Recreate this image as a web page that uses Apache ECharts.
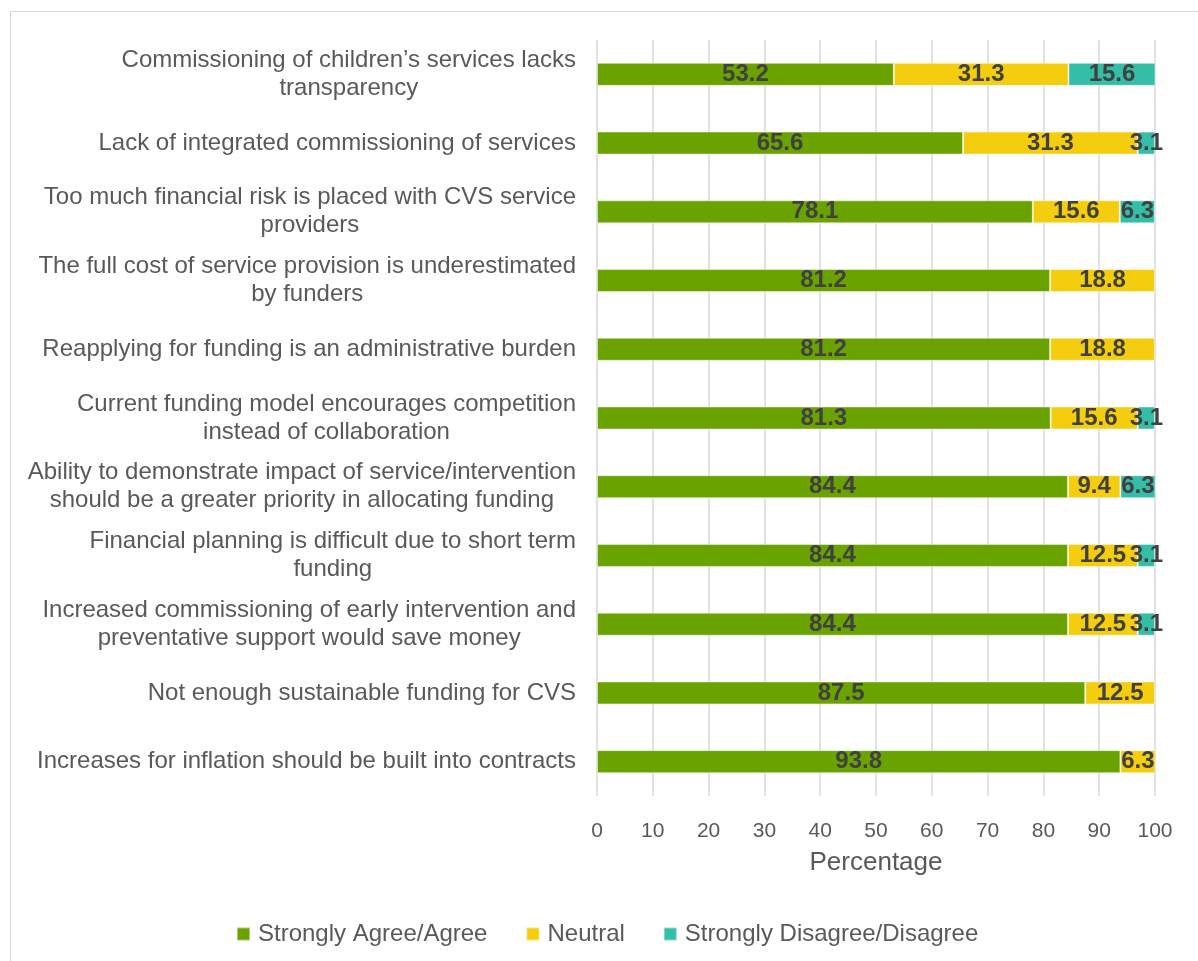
<!DOCTYPE html>
<html>
<head>
<meta charset="utf-8">
<script src="https://cdn.jsdelivr.net/npm/echarts@6/dist/echarts.min.js"></script>
<style>
  html, body { margin: 0; padding: 0; background: #ffffff; }
  #chart { width: 1198px; height: 961px; }
</style>
</head>
<body>
<div id="chart"></div>
<script>
// Survey statements, top to bottom
const categories = [
  'Commissioning of children\u2019s services lacks\ntransparency',
  'Lack of integrated commissioning of services',
  'Too much financial risk is placed with CVS service\nproviders',
  'The full cost of service provision is underestimated\nby funders',
  'Reapplying for funding is an administrative burden',
  'Current funding model encourages competition\ninstead of collaboration',
  'Ability to demonstrate impact of service/intervention\nshould be a greater priority in allocating funding',
  'Financial planning is difficult due to short term\nfunding',
  'Increased commissioning of early intervention and\npreventative support would save money',
  'Not enough sustainable funding for CVS',
  'Increases for inflation should be built into contracts'
];

// Percentages per response group (null = no responses)
const agree    = [53.2, 65.6, 78.1, 81.2, 81.2, 81.3, 84.4, 84.4, 84.4, 87.5, 93.8];
const neutral  = [31.3, 31.3, 15.6, 18.8, 18.8, 15.6, 9.4, 12.5, 12.5, 12.5, 6.3];
const disagree = [15.6, 3.1, 6.3, null, null, 3.1, 6.3, 3.1, 3.1, null, null];

const seriesNames = ['Strongly Agree/Agree', 'Neutral', 'Strongly Disagree/Disagree'];
const xTicks = { min: 0, max: 100, interval: 10 };

const textGrey = '#595959';
const labelFont = "'Liberation Sans', Arial, sans-serif";

function barSeries(name, data, color) {
  return {
    name: name,
    type: 'bar',
    stack: 'total',
    data: data,
    barWidth: 23,
    itemStyle: { color: color, borderColor: 'rgba(255,255,255,0.45)', borderWidth: 1 },
    label: {
      show: true,
      position: 'inside',
      color: '#404040',
      fontFamily: labelFont,
      fontWeight: 'bold',
      fontSize: 24,
      formatter: p => (p.value == null ? '' : p.value.toFixed(1))
    },
    emphasis: { disabled: true }
  };
}

const chart = echarts.init(document.getElementById('chart'));
chart.setOption({
  animation: false,
  textStyle: { fontFamily: labelFont },
  graphic: [{
    type: 'rect',
    shape: { x: 10.5, y: 11.5, width: 1220, height: 1000 },
    style: { fill: 'none', stroke: '#d9d9d9', lineWidth: 1 },
    silent: true
  }],
  grid: { left: 597, right: 43, top: 40, bottom: 165 },
  legend: {
    data: seriesNames,
    top: 917,
    left: 231,
    itemWidth: 13,
    itemHeight: 13,
    itemGap: 38,
    icon: 'rect',
    textStyle: { color: textGrey, fontSize: 24, fontFamily: labelFont, padding: [0, 0, 0, 3] }
  },
  xAxis: {
    type: 'value',
    min: xTicks.min,
    max: xTicks.max,
    interval: xTicks.interval,
    axisLine: { show: false },
    axisTick: { show: false },
    splitLine: { lineStyle: { color: '#d9d9d9', width: 1.5 } },
    axisLabel: { color: textGrey, fontSize: 21, margin: 25 },
    name: 'Percentage',
    nameLocation: 'middle',
    nameGap: 54,
    nameTextStyle: { color: textGrey, fontSize: 26 }
  },
  yAxis: {
    type: 'category',
    inverse: true,
    data: categories,
    axisLine: { show: false },
    axisTick: { show: false },
    axisLabel: {
      margin: 21,
      align: 'right',
      formatter: v => v.split('\n').map(s => '{c|' + s + '}').join('\n'),
      rich: {
        c: { align: 'center', color: textGrey, fontSize: 24, lineHeight: 28, fontFamily: labelFont }
      }
    }
  },
  series: [
    barSeries(seriesNames[0], agree, '#6aa300'),
    barSeries(seriesNames[1], neutral, '#f4cd0f'),
    barSeries(seriesNames[2], disagree, '#35bea7')
  ]
});
</script>
</body>
</html>
